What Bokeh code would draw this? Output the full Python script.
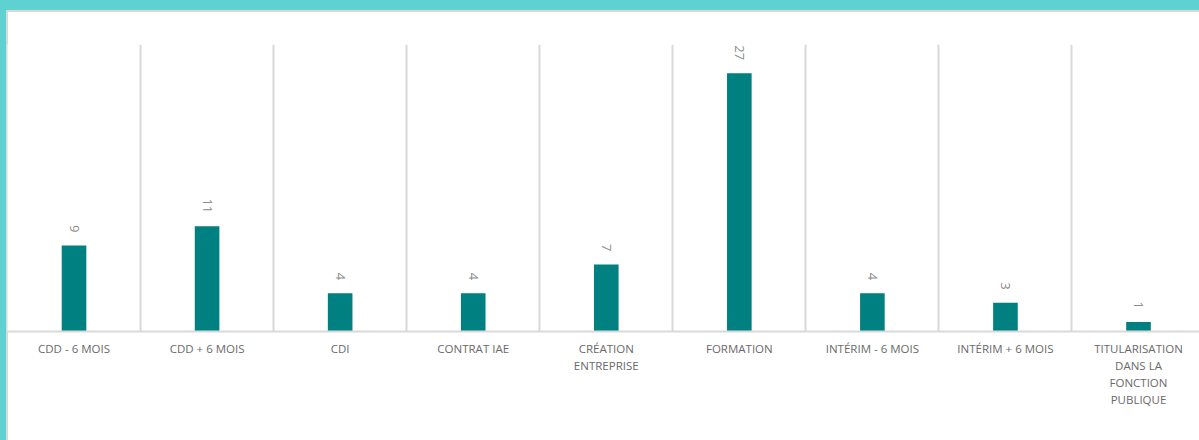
from bokeh.plotting import figure
from bokeh.models import Range1d, FixedTicker, ColumnDataSource, LabelSet
from bokeh.embed import file_html
from bokeh.resources import INLINE
from bokeh.core.properties import value
import math

categories = ["CDD - 6 MOIS", "CDD + 6 MOIS", "CDI", "CONTRAT IAE",
              "CRÉATION\nENTREPRISE", "FORMATION", "INTÉRIM - 6 MOIS",
              "INTÉRIM + 6 MOIS", "TITULARISATION\nDANS LA\nFONCTION\nPUBLIQUE"]
counts = [9, 11, 4, 4, 7, 27, 4, 3, 1]

xs = [i + 0.5 for i in range(len(categories))]
src = ColumnDataSource(dict(x=xs, top=counts, lab=[str(v) for v in counts]))

p = figure(width=1199, height=440, output_backend="svg", toolbar_location=None,
           x_range=Range1d(0, 1192 / 133.06), y_range=Range1d(0, 30),
           y_axis_location=None, min_border_left=7, min_border_right=0,
           min_border_top=44, min_border_bottom=109)
teal = "#5ED1D0"
grey = "#d9d9d9"
p.styles = {"background": (
    f"linear-gradient({teal},{teal}) top left / 100% 10px no-repeat, "
    f"linear-gradient({teal},{teal}) top left / 6px 100% no-repeat, "
    f"linear-gradient({grey},{grey}) top left / 100% 12px no-repeat, "
    f"linear-gradient({grey},{grey}) top left / 8px 100% no-repeat, white")}
p.outline_line_color = None
p.background_fill_color = "white"
p.border_fill_color = None

p.vbar(x="x", top="top", bottom=0, width=0.185, source=src,
       fill_color="#008080", line_color=None)

labels = LabelSet(x="x", y="top", text="lab", source=src, angle=-math.pi / 2,
                  text_align="right", text_baseline="middle", y_offset=13,
                  text_font=value("Open Sans"), text_font_size="13px",
                  text_color="#8c8c8c")
p.add_layout(labels)

p.xaxis.ticker = FixedTicker(ticks=xs)
p.xaxis.major_label_overrides = {x: c for x, c in zip(xs, categories)}
p.xaxis.major_tick_line_color = None
p.xaxis.minor_tick_line_color = None
p.xaxis.axis_line_color = grey
p.xaxis.axis_line_width = 2
p.xaxis.major_label_text_font = "Open Sans"
p.xaxis.major_label_text_font_size = "11.5px"
p.xaxis.major_label_text_color = "#6a6a6a"
p.xaxis.major_label_text_line_height = 1.15
p.xaxis.major_label_standoff = 3

p.xgrid.ticker = FixedTicker(ticks=[1, 2, 3, 4, 5, 6, 7, 8])
p.xgrid.grid_line_color = grey
p.xgrid.grid_line_width = 2
p.ygrid.grid_line_color = None

open("out.html", "w").write(file_html(p, INLINE))
